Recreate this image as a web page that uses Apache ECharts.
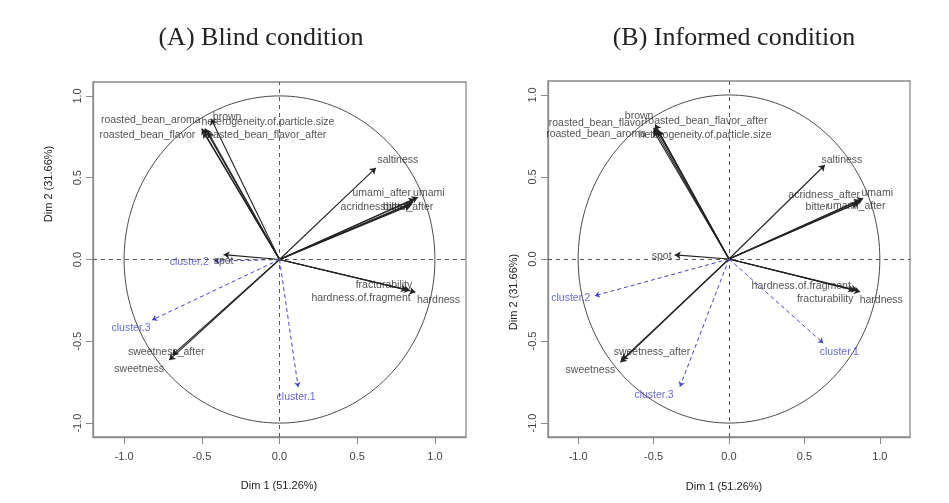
<!DOCTYPE html>
<html>
<head>
<meta charset="utf-8">
<script src="https://cdn.jsdelivr.net/npm/echarts@6/dist/echarts.min.js"></script>
<style>
    html, body {margin:0; padding:0; background:#fff;}
    #chart {width:949px; height:503px;}
</style>
</head>
<body>
<div id="chart"></div>
<script>
// (A) blind condition - active variables
var blindVars = ['roasted_bean_aroma','roasted_bean_flavor','heterogeneity.of.particle.size','roasted_bean_flavor_after','brown',
    'saltiness','umami','umami_after','acridness','bitter','bitter_after','spot','sweetness_after','sweetness',
    'hardness','fracturability','hardness.of.fragment'];
var blindDim1 = [-0.50,-0.49,-0.48,-0.46,-0.44,0.62,0.89,0.87,0.84,0.85,0.86,-0.36,-0.69,-0.71,0.875,0.82,0.84];
var blindDim2 = [0.80,0.78,0.80,0.78,0.86,0.56,0.38,0.37,0.33,0.34,0.35,0.03,-0.585,-0.615,-0.20,-0.185,-0.19];

// (A) supplementary cluster variables
var blindClusters = ['cluster.1','cluster.2','cluster.3'];
var blindClusterDim1 = [0.12,-0.42,-0.82];
var blindClusterDim2 = [-0.78,-0.01,-0.37];

// (B) informed condition - active variables
var informedVars = ['roasted_bean_flavor','brown','roasted_bean_flavor_after','roasted_bean_aroma','heterogeneity.of.particle.size',
    'saltiness','umami','acridness_after','bitter','umami_after','spot','hardness','hardness.of.fragment','fracturability',
    'sweetness_after','sweetness'];
var informedDim1 = [-0.50,-0.49,-0.48,-0.50,-0.47,0.636,0.89,0.87,0.85,0.87,-0.36,0.87,0.85,0.83,-0.71,-0.72];
var informedDim2 = [0.80,0.82,0.79,0.78,0.78,0.573,0.37,0.36,0.34,0.35,0.025,-0.20,-0.19,-0.19,-0.615,-0.63];

// (B) supplementary cluster variables
var informedClusters = ['cluster.1','cluster.2','cluster.3'];
var informedClusterDim1 = [0.625,-0.89,-0.325];
var informedClusterDim2 = [-0.513,-0.224,-0.778];

var tickValues = [-1, -0.5, 0, 0.5, 1];
var panelTitles = ['(A) Blind condition', '(B) Informed condition'];
var xAxisTitle = 'Dim 1 (51.26%)';
var yAxisTitle = 'Dim 2 (31.66%)';

// label placement (pixel shift from the arrow tip), layout only
var blindLabelShift = [[-51,-9],[-56,3],[63,-7],[57,3],[16,-2],[22,-8],[11,-4],[-33,-6],[-47,1.5],[-14,3],[-5,5],
    [0,7],[-6,-3],[-30,9],[23,8],[-23,-5],[-49,8]];
var blindClusterShift = [[-2,10],[-25,1],[-21,8]];
var informedLabelShift = [[-57,-5],[-16,-8],[49.5,-8],[-57.5,3],[47,4],[17,-5],[14,-5],[-36,-5],[-40,4],[-4,5],
    [-13,1],[21,8],[-56,-4],[-29,9],[30,-8],[-30,8]];
var informedClusterShift = [[16,9],[-24,2],[-26,8]];

var grids = [
    {left:93, top:82, width:373, height:355, show:true, borderColor:'#8a8a8a', borderWidth:1.3},
    {left:548, top:81, width:362, height:356, show:true, borderColor:'#8a8a8a', borderWidth:1.3}
];

var labelFont = 'Liberation Sans, Arial, sans-serif';
var varColor = '#262626';
var clusterColor = '#4444c0';

var makeAxis = function(i, isY){
    return {
        gridIndex:i,
        type:'value',
        min: isY ? -1.085 : -1.2,
        max: isY ? 1.085 : 1.2,
        splitLine:{show:false},
        axisLine:{show:true, onZero:false, lineStyle:{color:'#8a8a8a', width:1.3}},
        axisTick:{show:true, inside:false, length:7, customValues:tickValues, lineStyle:{color:'#8a8a8a'}},
        axisLabel:{
            customValues:tickValues,
            rotate: isY ? 90 : 0,
            margin: isY ? 10 : 14,
            color:'#444',
            fontSize:11,
            fontFamily:labelFont,
            formatter:function(v){return v.toFixed(1);}
        }
    };
};

var unitCircle = function(){
    var pts = [];
    for(var k = 0; k <= 360; k += 2){
        var a = k * Math.PI / 180;
        pts.push([Math.cos(a), Math.sin(a)]);
    }
    return pts;
};

var buildPanel = function(i, names, d1, d2, shift, cNames, c1, c2, cShift){
    var arrows = [], tips = [], cArrows = [], cTips = [];
    for(var k = 0; k < names.length; k++){
        arrows.push({coords:[[0,0],[d1[k],d2[k]]]});
        tips.push({value:[d1[k],d2[k]], name:names[k], label:{offset:shift[k]}});
    }
    for(var j = 0; j < cNames.length; j++){
        cArrows.push({coords:[[0,0],[c1[j],c2[j]]]});
        cTips.push({value:[c1[j],c2[j]], name:cNames[j], label:{offset:cShift[j]}});
    }
    var tipLabel = function(color){
        return {
            show:true, position:'inside', formatter:'{b}',
            color:color, fontSize:10.5, fontFamily:labelFont,
            align:'center', verticalAlign:'middle'
        };
    };
    return [
        {
            type:'line', xAxisIndex:i, yAxisIndex:i, data:unitCircle(), showSymbol:false,
            silent:true, lineStyle:{color:'#4a4a4a', width:1}, z:1,
            markLine:{
                silent:true, symbol:'none', label:{show:false},
                lineStyle:{color:'#555', type:[4,4], width:1},
                data:[{xAxis:0},{yAxis:0}]
            }
        },
        {
            type:'lines', coordinateSystem:'cartesian2d', xAxisIndex:i, yAxisIndex:i,
            data:arrows, symbol:['none','arrow'], symbolSize:6, silent:true,
            lineStyle:{color:'#222', width:1.1, opacity:1}, z:3
        },
        {
            type:'lines', coordinateSystem:'cartesian2d', xAxisIndex:i, yAxisIndex:i,
            data:cArrows, symbol:['none','arrow'], symbolSize:5, silent:true,
            lineStyle:{color:clusterColor, width:1, type:[4,3], opacity:1}, z:3
        },
        {
            type:'scatter', xAxisIndex:i, yAxisIndex:i, data:tips, symbolSize:0,
            silent:true, label:tipLabel(varColor), z:4
        },
        {
            type:'scatter', xAxisIndex:i, yAxisIndex:i, data:cTips, symbolSize:0,
            silent:true, label:tipLabel(clusterColor), z:4
        }
    ];
};

var series = buildPanel(0, blindVars, blindDim1, blindDim2, blindLabelShift,
        blindClusters, blindClusterDim1, blindClusterDim2, blindClusterShift)
    .concat(buildPanel(1, informedVars, informedDim1, informedDim2, informedLabelShift,
        informedClusters, informedClusterDim1, informedClusterDim2, informedClusterShift));

var textEl = function(x, y, text, size, font, rot){
    return {
        type:'text', x:x, y:y, rotation:rot || 0, silent:true,
        style:{text:text, fill:'#222', fontSize:size, fontFamily:font, textAlign:'center', textVerticalAlign:'middle'}
    };
};

var option = {
    animation:false,
    backgroundColor:'#fff',
    grid:grids,
    xAxis:[makeAxis(0,false), makeAxis(1,false)],
    yAxis:[makeAxis(0,true), makeAxis(1,true)],
    series:series,
    graphic:[
        textEl(261, 38, panelTitles[0], 26, 'Liberation Serif, serif'),
        textEl(734, 38, panelTitles[1], 26, 'Liberation Serif, serif'),
        textEl(279, 486, xAxisTitle, 11, labelFont),
        textEl(724, 487, xAxisTitle, 11, labelFont),
        textEl(49, 184, yAxisTitle, 11, labelFont, Math.PI / 2),
        textEl(514, 292, yAxisTitle, 11, labelFont, Math.PI / 2)
    ]
};

var chart = echarts.init(document.getElementById('chart'), null, {renderer:'canvas'});
chart.setOption(option);
</script>
</body>
</html>
